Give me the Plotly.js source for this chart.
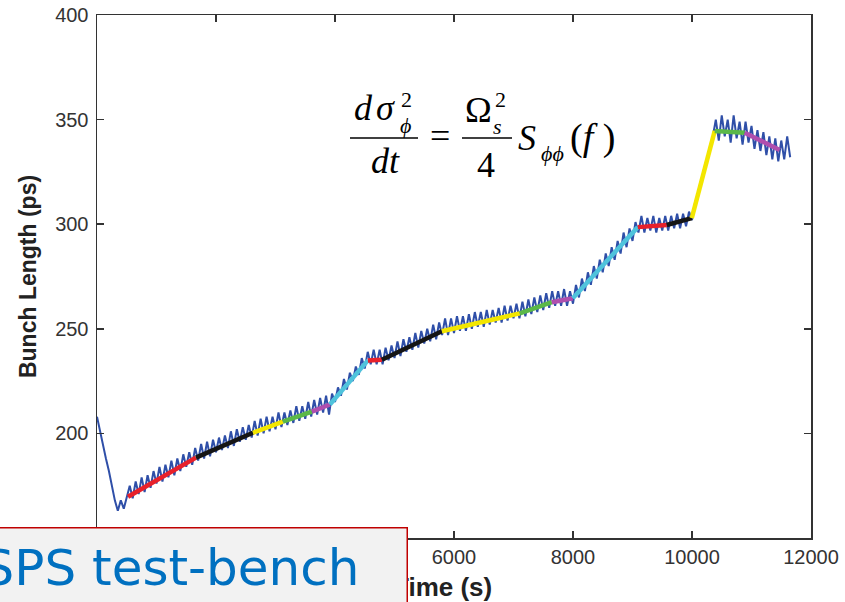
<!DOCTYPE html>
<html>
<head>
<meta charset="utf-8">
<script src="https://cdn.plot.ly/plotly-3.0.1.min.js"></script>
<style>html,body{margin:0;padding:0;background:#fff;}#chart{width:845px;height:602px;}</style>
</head>
<body>
<div id="chart"></div>
<script>
// Measured bunch length (blue, noisy) — time in s
var timeS = [0,50,100,150,200,250,300,350,400,450,500,550,600,650,700,750,800,850,900,950,
1000,1050,1100,1150,1200,1250,1300,1350,1400,1450,1500,1550,1600,1650,1700,1750,1800,1850,1900,1950,
2000,2050,2100,2150,2200,2250,2300,2350,2400,2450,2500,2550,2600,2650,2700,2750,2800,2850,2900,2950,
3000,3050,3100,3150,3200,3250,3300,3350,3400,3450,3500,3550,3600,3650,3700,3750,3800,3850,3900,3950,
4000,4050,4100,4150,4200,4250,4300,4350,4400,4450,4500,4550,4600,4650,4700,4750,4800,4850,4900,4950,
5000,5050,5100,5150,5200,5250,5300,5350,5400,5450,5500,5550,5600,5650,5700,5750,5800,5850,5900,5950,
6000,6050,6100,6150,6200,6250,6300,6350,6400,6450,6500,6550,6600,6650,6700,6750,6800,6850,6900,6950,
7000,7050,7100,7150,7200,7250,7300,7350,7400,7450,7500,7550,7600,7650,7700,7750,7800,7850,7900,7950,
8000,8050,8100,8150,8200,8250,8300,8350,8400,8450,8500,8550,8600,8650,8700,8750,8800,8850,8900,8950,
9000,9050,9100,9150,9200,9250,9300,9350,9400,9450,9500,9550,9600,9650,9700,9750,9800,9850,9900,9950,
10000,10050,10100,10150,10200,10250,10300,10350,10400,10450,10500,10550,10600,10650,10700,10750,10800,10850,10900,10950,
11000,11050,11100,11150,11200,11250,11300,11350,11400,11450,11500,11550,11600,11650];
var bunchLength = [208,201,195,188,182,175,168,163,168,164,170,175,169,177,171,179,172,180,174,182,
176,184,177,185,179,187,180,188,182,190,184,191,185,193,187,195,188,196,189,197,
191,198,192,199,193,201,194,202,196,203,197,204,198,206,199,207,200,208,201,208,
202,210,203,210,204,211,205,213,206,213,207,215,208,216,209,217,210,218,209,219,
215,222,218,226,221,229,225,232,228,236,231,239,233,240,233,240,233,241,235,242,
236,244,237,245,239,246,240,248,241,249,243,250,244,252,245,253,247,255,247,255,
248,256,249,256,249,257,250,258,251,258,251,259,252,259,253,260,253,261,254,261,
255,262,255,263,256,264,257,265,258,266,259,267,260,268,261,268,261,269,261,268,
262,271,265,274,268,277,271,280,274,283,277,286,280,289,283,292,286,296,289,298,
292,301,296,304,296,303,297,304,296,303,297,304,297,304,298,305,298,305,299,306,
302,310,315,321,326,331,337,342,350,340,352,342,350,339,352,341,349,338,349,339,
347,336,345,335,344,333,342,331,341,330,340,331,342,332];

// Piecewise linear fits (coloured segments), breakpoints
var fitTime = [521,1663,2621,3125,3612,3914,4553,4788,5796,7106,7644,7997,9089,9576,9996,10382,10886,11474];
var fitLength = [169.7,188.4,200.3,205.6,210.4,213.8,234.9,235.2,248.8,257.4,262.7,264.6,298.6,299.6,302.9,344.6,343.7,335.5];
var fitColors = ['#e8212b','#151515','#f3e600','#5bb848','#b04fae','#4fc3dc','#e8212b','#151515','#f3e600','#5bb848','#b04fae','#4fc3dc','#e8212b','#151515','#f3e600','#5bb848','#b04fae'];

var xTicks = [0,2000,4000,6000,8000,10000,12000];
var xTickText = ['','','','6000','8000','10000','12000'];
var yTicks = [150,200,250,300,350,400];
var yTickText = ['','200','250','300','350','400'];

var traces = [{
  x: timeS, y: bunchLength, type: 'scatter', mode: 'lines',
  line: {color: '#2f4fa8', width: 2}, hoverinfo: 'skip'
}];
for (var i = 0; i < fitColors.length; i++) {
  traces.push({
    x: [fitTime[i], fitTime[i+1]], y: [fitLength[i], fitLength[i+1]],
    type: 'scatter', mode: 'lines',
    line: {color: fitColors[i], width: 4.5}, hoverinfo: 'skip'
  });
}

// plot area in pixels (for placing the overlay texts)
var L = 97, R = 811, T = 15, B = 538;
function px(x){ return (x - L) / (R - L); }
function py(y){ return (B - y) / (B - T); }

var serif = 'Liberation Serif, Times New Roman, serif';
function eq(text, x, y, size) {
  return {text: text, xref: 'paper', yref: 'paper', x: px(x), y: py(y),
    xanchor: 'center', yanchor: 'middle', showarrow: false,
    font: {family: serif, size: size, color: '#000'}};
}
var sansBold = {family: 'Liberation Sans, Arial, sans-serif', size: 26, color: '#222', weight: 'bold'};

var annotations = [
  eq('<i>d</i>', 363, 108, 36),
  eq('<i>σ</i>', 385, 108, 36),
  eq('2', 406, 99, 22),
  eq('<i>ϕ</i>', 405, 125, 22),
  eq('<i>dt</i>', 385, 161, 36),
  eq('=', 440, 136, 36),
  eq('Ω', 478, 110, 36),
  eq('2', 500, 99, 22),
  eq('<i>s</i>', 497, 127, 22),
  eq('4', 486, 165, 36),
  eq('<i>S</i>', 527, 138, 36),
  eq('<i>ϕϕ</i>', 552, 154, 22),
  eq('(<i>f</i> )', 592, 137, 38),
  {text: 'Time (s)', xref: 'paper', yref: 'paper', x: px(442), y: py(587),
    xanchor: 'center', yanchor: 'middle', showarrow: false, font: sansBold},
  {text: 'SPS test-bench', xref: 'paper', yref: 'paper', x: px(408), y: py(527),
    xanchor: 'right', yanchor: 'top', showarrow: false, width: 424, height: 78,
    align: 'left', valign: 'middle', bgcolor: '#f2f2f2', bordercolor: '#c00000', borderwidth: 1.5, borderpad: 0,
    font: {family: 'Comic Sans MS, DejaVu Sans, sans-serif', size: 50, color: '#0070c0'}}
];

var shapes = [
  {type: 'line', xref: 'paper', yref: 'paper', x0: px(350), x1: px(418), y0: py(138), y1: py(138), line: {color: '#000', width: 1.5}},
  {type: 'line', xref: 'paper', yref: 'paper', x0: px(462), x1: px(512), y0: py(138), y1: py(138), line: {color: '#000', width: 1.5}}
];

var axisCommon = {
  showline: true, linecolor: '#333', linewidth: 1.5, mirror: 'ticks',
  ticks: 'inside', ticklen: 7, tickwidth: 1.5, tickcolor: '#333',
  showgrid: false, zeroline: false,
  tickfont: {family: 'Liberation Sans, Arial, sans-serif', size: 20, color: '#333'}
};

var layout = {
  width: 845, height: 602,
  margin: {l: L, r: 845 - R, t: T, b: 602 - B},
  paper_bgcolor: '#fff', plot_bgcolor: '#fff', showlegend: false,
  xaxis: Object.assign({}, axisCommon, {range: [0, 12000], tickmode: 'array', tickvals: xTicks, ticktext: xTickText}),
  yaxis: Object.assign({}, axisCommon, {range: [150, 400], tickmode: 'array', tickvals: yTicks, ticktext: yTickText,
    ticklabelstandoff: 3,
    title: {text: 'Bunch Length (ps)', standoff: 12, font: {family: 'Liberation Sans, Arial, sans-serif', size: 23, color: '#222', weight: 'bold'}}}),
  annotations: annotations,
  shapes: shapes
};

Plotly.newPlot('chart', traces, layout, {displayModeBar: false, staticPlot: true});
</script>
</body>
</html>
